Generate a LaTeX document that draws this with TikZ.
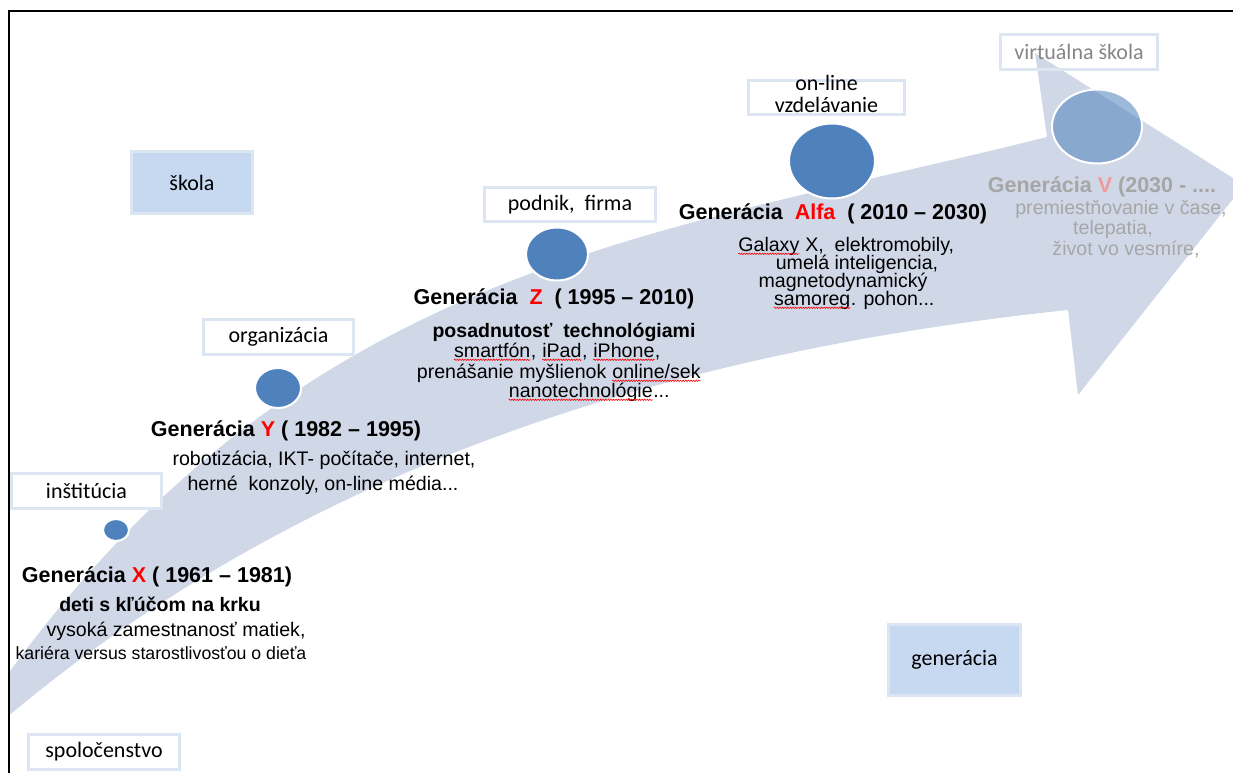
\documentclass[tikz,border=0pt]{standalone}
\usepackage{fontspec}
\setmainfont{Liberation Sans}
\newfontfamily\calibrifont{Carlito}
\usetikzlibrary{shapes.geometric,decorations.pathmorphing}
\definecolor{arrowc}{HTML}{D0D8E8}
\definecolor{circc}{HTML}{4F81BD}
\definecolor{boxline}{HTML}{DCE6F2}
\definecolor{boxfill}{HTML}{C6D9F1}
\definecolor{wavered}{HTML}{FF0000}
\definecolor{vgray}{HTML}{A6A6A6}
\definecolor{vred}{HTML}{F29A9A}
\definecolor{virtgray}{HTML}{858585}
\newcommand\redwave[1]{\tikz[x=1pt,y=1pt,baseline=(w.base)]{\node[inner sep=0pt,anchor=base](w){#1};
  \draw[wavered, line width=0.6pt, decorate, decoration={snake, amplitude=0.7pt, segment length=2.6pt}]
  ([yshift=-2.8pt]w.base west) -- ([yshift=-2.8pt]w.base east);}}
\begin{document}
\begin{tikzpicture}[x=1pt,y=-1pt,
  lbl/.style={font=\calibrifont\fontsize{22}{25}\selectfont, inner sep=0pt},
  lbltext/.style={font=\calibrifont\fontsize{22}{25}\selectfont, inner sep=0pt, anchor=base},
  wbox/.style={draw=boxline, line width=3pt, fill=white, lbl},
  fbox/.style={draw=boxline, line width=3pt, fill=boxfill, lbl},
  hdr/.style={font=\bfseries\fontsize{21.5}{24}\selectfont, anchor=base, inner sep=0pt},
  sub/.style={font=\bfseries\fontsize{19.5}{22}\selectfont, anchor=base, inner sep=0pt},
  body/.style={font=\fontsize{19.6}{22}\selectfont, anchor=base, inner sep=0pt},
  small/.style={font=\fontsize{17.7}{20}\selectfont, anchor=base, inner sep=0pt},
  dot/.style={ellipse, fill=circc, draw=white, line width=2pt, inner sep=0pt}
]
\useasboundingbox (0,0) rectangle (1233,773);
\begin{scope}
\clip (10,12) rectangle (1233,773);
% big curved arrow
\fill[arrowc] (0,685) .. controls (300,265) and (647,237) .. (1047,137)
  -- (1035,53) -- (1244,185) -- (1078,395) -- (1068,310)
  .. controls (668,352) and (300,468) .. (0,723) -- cycle;
% boxes
\node[fbox, minimum width=121pt, minimum height=62pt] (skola) at (192,182.5) {škola};
\node[wbox, minimum width=150pt, minimum height=35pt] (org) at (278.5,337) {organizácia};
\node[wbox, minimum width=171pt, minimum height=34pt] (podnik) at (570,204.5) {podnik,\ \ firma};
\node[wbox, minimum width=156pt, minimum height=34pt] (online) at (826.5,97.5) {};
\node[draw=boxline, line width=3pt, minimum width=157pt, minimum height=35pt, lbl, text=virtgray] (virt) at (1079,52) {virtuálna škola};
\node[wbox, minimum width=150pt, minimum height=35pt] (inst) at (86.5,491) {inštitúcia};
\node[wbox, minimum width=151pt, minimum height=35pt] (spol) at (104,752) {spoločenstvo};
\node[fbox, minimum width=132pt, minimum height=71pt] (gen) at (954.5,660) {generácia};
\end{scope}
\node[lbltext] (online1) at (826.5,91) {on-line};
\node[lbltext] (online2) at (826.5,113) {vzdelávanie};
% circles
\node[dot, minimum width=26pt, minimum height=22pt] (cx) at (116,530) {};
\node[dot, minimum width=46pt, minimum height=40pt] (cy) at (278,388) {};
\node[dot, minimum width=62pt, minimum height=53pt] (cz) at (557,254) {};
\node[dot, minimum width=86pt, minimum height=75pt] (ca) at (832,161) {};
\node[dot, fill opacity=0.55, minimum width=90pt, minimum height=74pt] (cv) at (1097,126.5) {};
% generation X
\node[hdr] (hx) at (157,582) {Generácia \textcolor{red}{X} ( 1961 – 1981)};
\node[sub] (sx) at (160,611) {deti s kľúčom na krku};
\node[body] (bx1) at (176,636) {vysoká zamestnanosť matiek,};
\node[small] (bx2) at (161,659) {kariéra versus starostlivosťou o dieťa};
% generation Y
\node[hdr] (hy) at (286,436) {Generácia \textcolor{red}{Y} ( 1982 – 1995)};
\node[body] (by1) at (324,465) {robotizácia, IKT- počítače, internet,};
\node[body] (by2) at (323,490) {herné\ \ konzoly, on-line média...};
% generation Z
\node[hdr] (hz) at (554,304) {Generácia\ \ \textcolor{red}{Z}\ \ ( 1995 – 2010)};
\node[sub] (sz) at (564,337) {posadnutosť\ \ technológiami};
\node[body] (bz1) at (557,357) {\redwave{smartfón}, \redwave{iPad}, \redwave{iPhone},};
\node[body] (bz2) at (559,378) {prenášanie myšlienok \redwave{online/sek}};
\node[body] (bz3) at (589,397) {\redwave{nanotechnológie}...};
% generation Alfa
\node[hdr] (ha) at (833,219) {Generácia\ \ \textcolor{red}{Alfa}\ \ ( 2010 – 2030)};
\node[body] (ba1) at (846,251) {\redwave{Galaxy} X,\ \ elektromobily,};
\node[body] (ba2) at (857,269) {umelá inteligencia,};
\node[body] (ba3) at (843,287) {magnetodynamický};
\node[body] (ba4) at (854,305) {\redwave{samoreg}. pohon...};
% generation V
\node[hdr, text=vgray] (hv) at (1102,192) {Generácia \textcolor{vred}{V} (2030 - ....};
\node[body, text=vgray] (bv1) at (1121,214) {premiestňovanie v čase,};
\node[body, text=vgray] (bv2) at (1113,234) {telepatia,};
\node[body, text=vgray] (bv3) at (1126,255) {život vo vesmíre,};
% frame
\draw[line width=2.2pt] (9,773) -- (9,11) -- (1233,11);
\end{tikzpicture}
\end{document}
